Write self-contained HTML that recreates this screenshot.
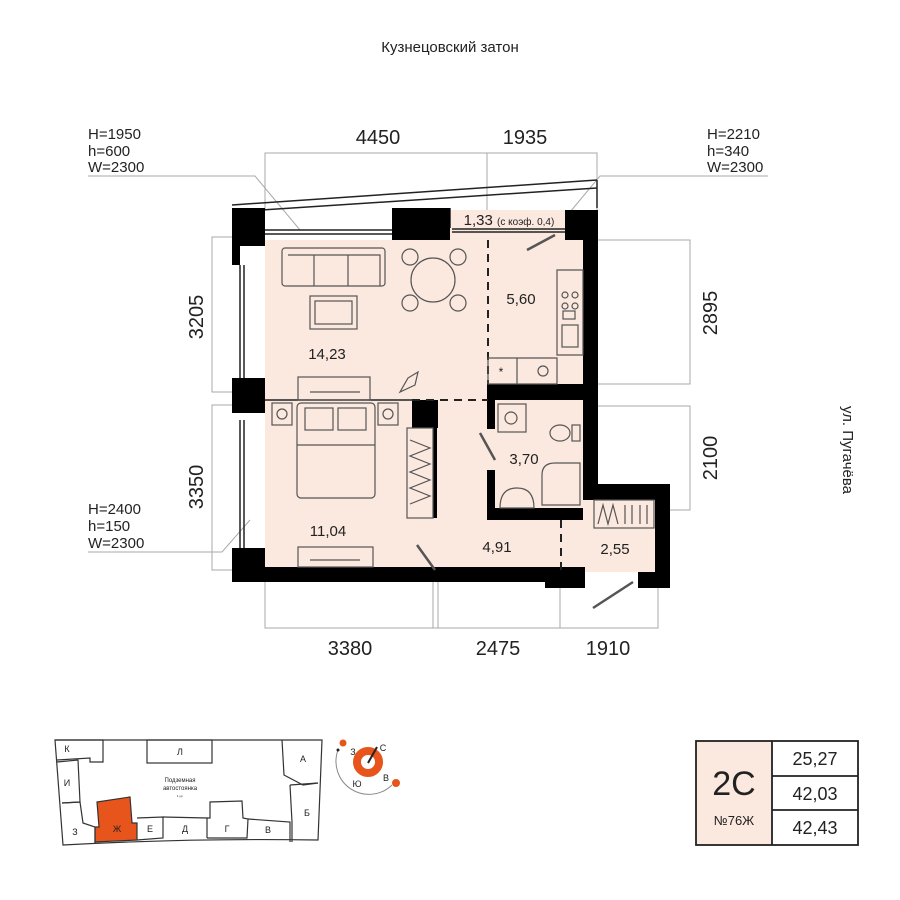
<!DOCTYPE html>
<html><head><meta charset="utf-8"><style>
body{margin:0;background:#fff}
svg{display:block}
text{font-family:"Liberation Sans",sans-serif;fill:#222}
</style></head><body>
<svg width="900" height="900" viewBox="0 0 900 900" xmlns="http://www.w3.org/2000/svg">
<text x="450" y="52" font-size="15" text-anchor="middle">Кузнецовский затон</text>
<text x="0" y="0" font-size="15" text-anchor="middle" transform="translate(843,450) rotate(90)">ул. Пугачёва</text>

<g stroke="#aaa" stroke-width="1" fill="none">
<path d="M265,210V153H597V210M487,153V210"/>
<path d="M598,240H690V384H598M598,406H690V510H670"/>
<path d="M232,237H212V392H232M232,405H212V570H232"/>
<path d="M265,582V628H658V588M433,582V628M438,582V628M560,588V628"/>
<path d="M88,176H255L300,230"/>
<path d="M768,176H600L555,230"/>
<path d="M88,552H222L250,520"/>
</g>
<g font-size="20" text-anchor="middle">
<text x="378" y="144">4450</text><text x="525" y="144">1935</text>
<text x="350" y="655">3380</text><text x="498" y="655">2475</text><text x="608" y="655">1910</text>
<text transform="translate(203,317) rotate(-90)">3205</text>
<text transform="translate(203,487) rotate(-90)">3350</text>
<text transform="translate(717,313) rotate(-90)">2895</text>
<text transform="translate(717,458) rotate(-90)">2100</text>
</g>
<g font-size="15">
<text x="88" y="139">H=1950</text><text x="88" y="156">h=600</text><text x="88" y="172">W=2300</text>
<text x="707" y="139">H=2210</text><text x="707" y="156">h=340</text><text x="707" y="172">W=2300</text>
<text x="88" y="514">H=2400</text><text x="88" y="531">h=150</text><text x="88" y="548">W=2300</text>
</g>

<path fill="#fbe8df" d="M265,240H583V567H265Z M450,210H583V240H450Z M560,500H655V572H560Z"/>
<g stroke="#222" stroke-width="1.5" fill="none">
<path d="M232,205L597,180"/>
<path d="M232,212L597,188"/>
<path d="M450,208V228M597,180V208"/>
<path d="M265,230H392M265,234H392M452,229H565M452,232H565"/>
<path d="M240,265V378M244,265V378M240,420V555M244,420V555"/>
</g>
<g fill="#000">
<rect x="232" y="208" width="33" height="38"/>
<rect x="232" y="240" width="8" height="25"/>
<rect x="392" y="208" width="58" height="32"/>
<rect x="565" y="210" width="33" height="30"/>
<rect x="583" y="210" width="15" height="290"/>
<rect x="232" y="378" width="33" height="35"/>
<rect x="232" y="548" width="33" height="34"/>
<rect x="232" y="567" width="328" height="15"/>
<rect x="545" y="567" width="40" height="21"/>
<rect x="583" y="484" width="87" height="16"/>
<rect x="655" y="484" width="15" height="104"/>
<rect x="638" y="572" width="32" height="16"/>
<rect x="488" y="384" width="110" height="16"/>
<rect x="487" y="384" width="8" height="45"/>
<rect x="487" y="470" width="8" height="50"/>
<rect x="487" y="508" width="96" height="12"/>
<rect x="412" y="400" width="26" height="28"/>
<rect x="433" y="428" width="4" height="90"/>
</g>
<g stroke="#222" stroke-width="1.5" fill="none">
<path d="M265,400H412"/>
<path d="M412,400H488" stroke-dasharray="8,6" stroke-width="2"/>
<path d="M488,240V384" stroke-dasharray="8,6" stroke-width="2"/>
<path d="M561,520V570" stroke-dasharray="8,6" stroke-width="2"/>
<path d="M527,250L555,235M480,433L495,460M417,545L435,570M593,608L633,582" stroke-width="2.5" stroke="#555"/>
</g>
<g stroke="#555" stroke-width="1.2" fill="none">
<rect x="282" y="248" width="103" height="38" rx="3"/>
<path d="M288,255H380V286M314,255V286M348,255V286"/>
<rect x="310" y="296" width="47" height="33"/><rect x="315" y="301" width="37" height="23"/>
<circle cx="433" cy="280" r="22"/>
<circle cx="410" cy="257" r="8"/><circle cx="458" cy="257" r="8"/><circle cx="410" cy="303" r="8"/><circle cx="458" cy="303" r="8"/>
<rect x="298" y="377" width="72" height="23"/><path d="M310,392H360"/>
<rect x="297" y="403" width="78" height="95" rx="4"/>
<rect x="305" y="408" width="28" height="22"/><rect x="338" y="408" width="28" height="22"/>
<path d="M297,445H375"/>
<rect x="272" y="403" width="20" height="22"/><circle cx="282" cy="414" r="5"/>
<rect x="378" y="403" width="20" height="22"/><circle cx="388" cy="414" r="5"/>
<rect x="407" y="428" width="26" height="90"/>
<path d="M410,440L430,448L410,456L430,464L410,472L430,480L410,488L430,496L410,504"/>
<rect x="298" y="547" width="75" height="20"/><path d="M310,560H360"/>
<path d="M400,392L408,378L418,372L415,385Z"/>
<path d="M557,270H583V355H557ZM488,358H557V384H488ZM517,358V384"/>
<circle cx="565" cy="295" r="3"/><circle cx="575" cy="295" r="3"/><circle cx="565" cy="306" r="3"/><circle cx="575" cy="306" r="3"/>
<rect x="562" y="325" width="16" height="22"/><rect x="563" y="311" width="12" height="8"/>
<circle cx="543" cy="371" r="5"/>
<rect x="498" y="404" width="28" height="28"/><circle cx="511" cy="418" r="6"/>
<ellipse cx="560" cy="433" rx="10" ry="8"/><rect x="572" y="425" width="8" height="16"/>
<path d="M542,505V475Q542,463 555,463H580V505Z"/>
<path d="M500,508Q500,488 517,488Q534,488 534,508Z"/>
<rect x="594" y="500" width="60" height="28"/>
<path d="M598,524L603,505L608,524L613,505L618,524M625,505V524M632,505V524M640,505V524M647,505V524"/>
</g>
<g font-size="15" text-anchor="middle">
<text x="327" y="359">14,23</text><text x="521" y="304">5,60</text>
<text x="328" y="536">11,04</text><text x="524" y="464">3,70</text>
<text x="497" y="552">4,91</text><text x="615" y="554">2,55</text>
<text x="509" y="225">1,33 <tspan font-size="10">(с коэф. 0,4)</tspan></text>
<text x="501" y="376" font-size="12">*</text>
</g>

<path d="M97,802L130,797L132,823L137,823L137,840L95,842L95,827L99,827Z" fill="#e8551c"/>
<g stroke="#333" stroke-width="1.2" fill="none">
<path d="M55,740H322L318,840Q190,838 63,845Z"/>
<path d="M55,740L103,740L103,762L90,762L90,758L57,760"/>
<path d="M57,762L78,760L80,802L62,803"/>
<path d="M62,803L80,802L83,823L95,827L95,843"/>
<path d="M97,802L130,797L132,823L137,823L137,840L95,842L95,827L99,827Z"/>
<path d="M137,818L163,817L163,838L137,840"/>
<path d="M163,817L207,818L207,838"/>
<path d="M207,818L210,818L210,802L242,801L243,818L248,819L247,838L207,838"/>
<path d="M248,819L290,822L290,842"/>
<path d="M290,785L318,783M292,842L292,822L290,785"/>
<path d="M282,740L284,775L303,785L318,783"/>
<rect x="147" y="740" width="65" height="23"/>
</g>
<g font-size="9" text-anchor="middle">
<text x="67" y="752">К</text><text x="180" y="755">Л</text><text x="303" y="762">А</text>
<text x="67" y="786">И</text><text x="307" y="816">Б</text><text x="75" y="835">З</text>
<text x="117" y="832">Ж</text><text x="150" y="832">Е</text><text x="185" y="832">Д</text>
<text x="227" y="832">Г</text><text x="268" y="833">В</text>
<text x="180" y="782" font-size="6">Подземная</text><text x="180" y="790" font-size="6">автостоянка</text>
<text x="180" y="797" font-size="3">1 ур.</text>
</g>
<circle cx="368" cy="762" r="11" fill="none" stroke="#e8551c" stroke-width="8"/>
<path d="M368,763L377,747" stroke="#222" stroke-width="2"/>
<path d="M338,750A33,33 0 0 0 392,785" fill="none" stroke="#888"/>
<circle cx="338" cy="750" r="1.5" fill="#222"/>
<circle cx="343" cy="743" r="3.5" fill="#e8551c"/><circle cx="396" cy="783" r="4" fill="#e8551c"/>
<g font-size="9" text-anchor="middle"><text x="353" y="755">З</text><text x="383" y="751">С</text><text x="357" y="787">Ю</text><text x="386" y="781">В</text></g>

<rect x="696" y="741" width="76" height="104" fill="#fbe8df"/>
<g stroke="#222" stroke-width="1.8" fill="none">
<rect x="696" y="741" width="162" height="104"/>
<path d="M772,741V845M772,776H858M772,810H858"/>
</g>
<text x="734" y="795" font-size="34" text-anchor="middle">2С</text>
<text x="734" y="825" font-size="13" text-anchor="middle">№76Ж</text>
<g font-size="18" text-anchor="middle"><text x="815" y="765">25,27</text><text x="815" y="800">42,03</text><text x="815" y="834">42,43</text></g>
</svg>
</body></html>
